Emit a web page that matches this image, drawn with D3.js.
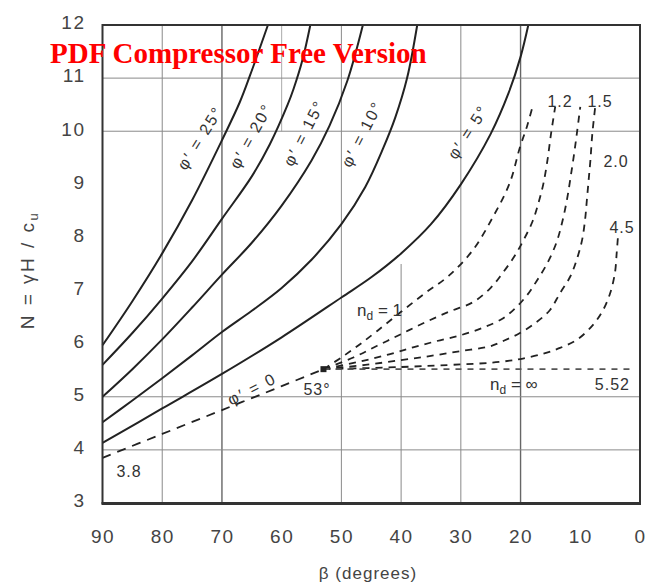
<!DOCTYPE html>
<html>
<head>
<meta charset="utf-8">
<script src="https://cdn.jsdelivr.net/npm/d3@7"></script>
<style>
  body { margin: 0; background: #fff; }
</style>
</head>
<body>
<svg id="chart" width="648" height="584"></svg>
<script>
// ---- axis ticks ----
const betaTicks = [90, 80, 70, 60, 50, 40, 30, 20, 10, 0];
const nTicks = [3, 4, 5, 6, 7, 8, 9, 10, 11, 12];

// ---- solid curves, one per friction angle phi' ----
const phi25Beta = [90, 85, 80, 75, 70, 67, 65.3, 62.3];
const phi25N    = [5.97, 6.8, 7.7, 8.7, 9.83, 10.55, 11.05, 12.0];
const phi20Beta = [90, 85, 80, 75, 70, 65, 62, 59, 58, 56.5, 55.2];
const phi20N    = [5.6, 6.2, 6.85, 7.55, 8.35, 9.15, 9.75, 10.5, 10.8, 11.35, 12.0];
const phi15Beta = [90, 85, 80, 75, 70, 65, 60, 55, 52, 49, 46.4];
const phi15N    = [5.0, 5.52, 6.08, 6.68, 7.3, 7.9, 8.6, 9.45, 10.1, 10.95, 12.0];
const phi10Beta = [90, 85, 80, 75, 70, 65, 60, 55, 50, 46, 43, 41, 39, 37.3];
const phi10N    = [4.52, 4.93, 5.35, 5.78, 6.22, 6.62, 7.05, 7.58, 8.25, 8.95, 9.68, 10.25, 11.0, 12.0];
const phi5Beta  = [90, 80, 70, 60, 50, 45, 40, 35, 30, 25, 22, 20, 18.7];
const phi5N     = [4.13, 4.78, 5.43, 6.12, 6.87, 7.25, 7.7, 8.25, 9.0, 9.95, 10.72, 11.4, 12.0];

// ---- phi' = 0, steep slopes (dashed, toe circles down to 53 deg) ----
const phi0Beta = [90, 80, 70, 60, 53];
const phi0N    = [3.85, 4.3, 4.75, 5.2, 5.52];

// ---- phi' = 0, depth factor curves below 53 deg (dashed) ----
const nd1Beta  = [53, 50, 47, 44, 40, 36, 32, 28, 24.6, 21.8, 20.1, 18.9, 17.9];
const nd1N     = [5.52, 5.74, 5.98, 6.24, 6.6, 6.95, 7.28, 7.76, 8.39, 9.03, 9.7, 10.1, 10.5];
const nd12Beta = [53, 48, 44, 40, 36, 32, 28, 25, 23, 21, 19.5, 18, 17, 16.2, 15.5, 14.9, 14.2];
const nd12N    = [5.52, 5.74, 5.96, 6.18, 6.4, 6.6, 6.78, 7.05, 7.33, 7.65, 7.95, 8.3, 8.65, 9.0, 9.45, 9.95, 10.46];
const nd15Beta = [53, 47, 42, 38, 34, 30, 26.3, 22.9, 20.6, 19, 17.3, 15.5, 14, 13, 12.2, 11.6, 11.0, 10.5, 10.0];
const nd15N    = [5.52, 5.66, 5.8, 5.93, 6.05, 6.16, 6.3, 6.48, 6.7, 6.9, 7.18, 7.52, 7.9, 8.3, 8.73, 9.15, 9.6, 10.02, 10.46];
const nd20Beta = [53, 46, 40, 35, 30, 25.1, 22.9, 20.1, 17.3, 15.1, 13.4, 11.7, 10.6, 9.7, 9.2, 8.9, 8.6, 8.3, 8.0, 7.5];
const nd20N    = [5.52, 5.6, 5.69, 5.77, 5.86, 5.95, 6.05, 6.2, 6.41, 6.63, 6.95, 7.26, 7.58, 7.95, 8.33, 8.7, 9.08, 9.46, 9.93, 10.46];
const nd45Beta = [53, 40, 30, 25, 21.8, 19.6, 16.2, 13.4, 10.6, 7.9, 6.2, 5.0, 4.2, 3.9, 3.7];
const nd45N    = [5.52, 5.56, 5.61, 5.64, 5.68, 5.72, 5.81, 5.92, 6.07, 6.35, 6.63, 6.95, 7.33, 7.71, 8.0];
const ndInfBeta = [53, 1.2];
const ndInfN    = [5.52, 5.52];

// ---- grid ----
const gridBeta = [80, 70, 50, 30, 20];
const gridN = [4, 5, 10, 11];

const svg = d3.select("#chart");
const x = d3.scaleLinear().domain([90, 0]).range([102.5, 640]);
const y = d3.scaleLinear().domain([3, 12]).range([503, 25]);

const sans = "Liberation Sans, Arial, sans-serif";
const ink = "#222";
const gridColor = "#8a8a8a";

// grid lines
const grid = svg.append("g");
grid.selectAll(".gv").data(gridBeta).join("line")
  .attr("x1", d => x(d)).attr("x2", d => x(d))
  .attr("y1", y(3)).attr("y2", y(12))
  .attr("stroke", d => (d === 70 || d === 20) ? "#666" : gridColor)
  .attr("stroke-width", d => (d === 70 || d === 20) ? 1.4 : 1);
// partial verticals at 60 and 40 degrees
grid.append("line").attr("x1", x(60)).attr("x2", x(60))
  .attr("y1", y(12)).attr("y2", y(10)).attr("stroke", "#aaa").attr("stroke-width", 1);
grid.append("line").attr("x1", x(40)).attr("x2", x(40))
  .attr("y1", y(3)).attr("y2", y(7.5)).attr("stroke", gridColor).attr("stroke-width", 1);
grid.selectAll(".gh").data(gridN).join("line")
  .attr("x1", x(90)).attr("x2", x(0))
  .attr("y1", d => y(d)).attr("y2", d => y(d))
  .attr("stroke", gridColor).attr("stroke-width", 1);

// curves
const line = d3.line()
  .x(d => x(d[0])).y(d => y(d[1]))
  .curve(d3.curveCatmullRom.alpha(0.5));
const zip = (b, n) => b.map((v, i) => [v, n[i]]);

const solidCurves = [
  zip(phi25Beta, phi25N), zip(phi20Beta, phi20N), zip(phi15Beta, phi15N),
  zip(phi10Beta, phi10N), zip(phi5Beta, phi5N)
];
svg.append("g").selectAll("path").data(solidCurves).join("path")
  .attr("d", line).attr("fill", "none")
  .attr("stroke", ink).attr("stroke-width", 2);

const dashedCurves = [
  zip(phi0Beta, phi0N), zip(nd1Beta, nd1N), zip(nd12Beta, nd12N),
  zip(nd15Beta, nd15N), zip(nd20Beta, nd20N), zip(nd45Beta, nd45N)
];
svg.append("g").selectAll("path").data(dashedCurves).join("path")
  .attr("d", line).attr("fill", "none")
  .attr("stroke", ink).attr("stroke-width", 1.8)
  .attr("stroke-dasharray", (d, i) => i === 0 ? "9,7" : "7,6");

svg.append("path").datum(zip(ndInfBeta, ndInfN))
  .attr("d", d3.line().x(d => x(d[0])).y(d => y(d[1])))
  .attr("fill", "none").attr("stroke", "#555").attr("stroke-width", 1.8)
  .attr("stroke-dasharray", "6,6");

// 53 degree marker
svg.append("rect")
  .attr("x", x(53) - 3).attr("y", y(5.52) - 3)
  .attr("width", 6).attr("height", 6).attr("fill", ink);

// frame
svg.append("rect")
  .attr("x", x(90)).attr("y", y(12))
  .attr("width", x(0) - x(90)).attr("height", y(3) - y(12))
  .attr("fill", "none").attr("stroke", "#333").attr("stroke-width", 2);
svg.append("line").attr("x1", x(90) - 1).attr("x2", x(0) + 1)
  .attr("y1", y(3) + 0.5).attr("y2", y(3) + 0.5)
  .attr("stroke", "#333").attr("stroke-width", 3);

// axes
const xAxis = svg.append("g").attr("transform", `translate(0,${y(3)})`)
  .call(d3.axisBottom(x).tickValues(betaTicks).tickSize(0).tickPadding(27));
const yAxis = svg.append("g").attr("transform", `translate(${x(90)},0)`)
  .call(d3.axisLeft(y).tickValues(nTicks).tickSize(0).tickPadding(17));
[xAxis, yAxis].forEach(g => {
  g.select(".domain").remove();
  g.selectAll("text").attr("fill", "#444").attr("letter-spacing", 1.5)
    .style("font-family", sans).style("font-size", "19px");
});
yAxis.selectAll("text").attr("dy", "0.2em");

// axis titles
svg.append("text").attr("x", 368).attr("y", 579)
  .attr("text-anchor", "middle").attr("fill", "#444").attr("letter-spacing", 1)
  .style("font-family", sans).style("font-size", "17px")
  .text("β (degrees)");
const yt = svg.append("text")
  .attr("transform", "translate(34,270) rotate(-90)")
  .attr("text-anchor", "middle").attr("fill", "#444")
  .style("font-family", sans).style("font-size", "19px")
  .attr("letter-spacing", 2.5);
yt.append("tspan").text("N = γH / c");
yt.append("tspan").style("font-size", "13px").attr("dy", 4).text("u");

// curve labels
const phiText = [
  { t: "φ′ = 25°", cx: 200, cy: 138, r: -58 },
  { t: "φ′ = 20°", cx: 251, cy: 136, r: -61 },
  { t: "φ′ = 15°", cx: 304, cy: 133, r: -63 },
  { t: "φ′ = 10°", cx: 362, cy: 134, r: -63 },
  { t: "φ′ = 5°",  cx: 468, cy: 132, r: -57 },
  { t: "φ′ = 0",   cx: 252, cy: 389, r: -27 }
];
svg.append("g").selectAll("text").data(phiText).join("text")
  .attr("transform", d => `translate(${d.cx},${d.cy}) rotate(${d.r})`)
  .attr("text-anchor", "middle").attr("dominant-baseline", "central")
  .attr("letter-spacing", 2).attr("fill", "#333")
  .style("font-family", sans).style("font-size", "16px")
  .text(d => d.t);

const plainText = [
  { t: "53°",  x: 317, y: 395, a: "middle" },
  { t: "3.8",  x: 129, y: 477, a: "middle" },
  { t: "5.52", x: 630, y: 390, a: "end" },
  { t: "1.2",  x: 560, y: 107, a: "middle" },
  { t: "1.5",  x: 600, y: 107, a: "middle" },
  { t: "2.0",  x: 616, y: 167, a: "middle" },
  { t: "4.5",  x: 622, y: 233, a: "middle" }
];
svg.append("g").selectAll("text").data(plainText).join("text")
  .attr("x", d => d.x).attr("y", d => d.y).attr("text-anchor", d => d.a)
  .attr("letter-spacing", 1).attr("fill", "#333")
  .style("font-family", sans).style("font-size", "16px")
  .text(d => d.t);

// depth factor labels with subscript d
function ndLabel(xp, yp, val) {
  const t = svg.append("text").attr("x", xp).attr("y", yp)
    .attr("fill", "#333").style("font-family", sans).style("font-size", "17px");
  t.append("tspan").text("n");
  t.append("tspan").style("font-size", "12px").attr("dy", 4).text("d");
  t.append("tspan").attr("dy", -4).text(" = " + val);
}
ndLabel(357, 316, "1");
ndLabel(490, 390, "∞");

// watermark
svg.append("text").attr("x", 50).attr("y", 63)
  .style("font-family", "Liberation Serif, Times New Roman, serif")
  .style("font-weight", "bold").style("font-size", "29px").attr("fill", "#ff0000")
  .text("PDF Compressor Free Version");
</script>
</body>
</html>
